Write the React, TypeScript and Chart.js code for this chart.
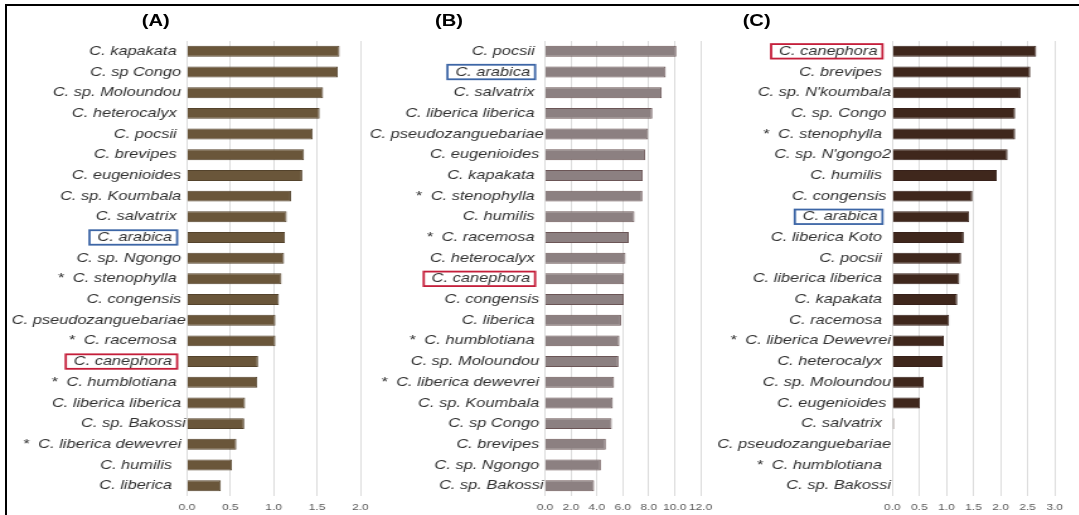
import React, { useEffect, useRef } from 'react';
import { Chart, registerables } from 'chart.js';

Chart.register(...registerables);

// ---------- data ----------
const labelsA = [
  'C. kapakata  ', 'C. sp Congo ', 'C. sp. Moloundou ', 'C. heterocalyx  ', 'C. pocsii  ',
  'C. brevipes  ', 'C. eugenioides ', 'C. sp. Koumbala ', 'C. salvatrix  ', 'C. arabica   ',
  'C. sp. Ngongo ', '*  C. stenophylla  ', 'C. congensis ', 'C. pseudozanguebariae', '*  C. racemosa  ',
  'C. canephora   ', '*  C. humblotiana  ', 'C. liberica liberica ', 'C. sp. Bakossi', '*  C. liberica dewevrei ',
  'C. humilis   ', 'C. liberica   ',
];
const valuesA = [
  1.76, 1.74, 1.57, 1.53, 1.45, 1.35, 1.33, 1.2, 1.15, 1.13, 1.12,
  1.09, 1.06, 1.02, 1.02, 0.82, 0.81, 0.67, 0.66, 0.57, 0.52, 0.39,
];
const ticksA = [0, 0.5, 1.0, 1.5, 2.0];

const labelsB = [
  'C. pocsii  ', 'C. arabica   ', 'C. salvatrix  ', 'C. liberica liberica  ', 'C. pseudozanguebariae',
  'C. eugenioides ', 'C. kapakata  ', '*  C. stenophylla  ', 'C. humilis  ', '*  C. racemosa  ',
  'C. heterocalyx  ', 'C. canephora   ', 'C. congensis ', 'C. liberica  ', '*  C. humblotiana  ',
  'C. sp. Moloundou ', '*  C. liberica dewevrei ', 'C. sp. Koumbala ', 'C. sp Congo ', 'C. brevipes ',
  'C. sp. Ngongo ', 'C. sp. Bakossi',
];
const valuesB = [
  10.13, 9.31, 9.0, 8.28, 7.95, 7.72, 7.54, 7.51, 6.9, 6.46, 6.21,
  6.1, 6.08, 5.87, 5.74, 5.67, 5.33, 5.23, 5.15, 4.69, 4.31, 3.79,
];
const ticksB = [0, 2, 4, 6, 8, 10, 12];

const labelsC = [
  'C. canephora   ', 'C. brevipes  ', "C. sp. N'koumbala", 'C. sp. Congo ', '*  C. stenophylla  ',
  "C. sp. N'gongo2", 'C. humilis  ', 'C. congensis ', 'C. arabica   ', 'C. liberica Koto  ',
  'C. pocsii  ', 'C. liberica liberica  ', 'C. kapakata  ', 'C. racemosa  ', '*  C. liberica Dewevrei',
  'C. heterocalyx  ', 'C. sp. Moloundou', 'C. eugenioides ', 'C. salvatrix  ', 'C. pseudozanguebariae',
  '*  C. humblotiana  ', 'C. sp. Bakossi',
];
const valuesC = [
  2.66, 2.55, 2.37, 2.27, 2.27, 2.13, 1.93, 1.48, 1.42, 1.32, 1.27,
  1.24, 1.2, 1.05, 0.95, 0.93, 0.58, 0.51, 0.03, 0, 0, 0,
];
const ticksC = [0, 0.5, 1.0, 1.5, 2.0, 2.5, 3.0];

const panelTitles = ['(A)', '(B)', '(C)'];
const highlightBlue = 'C. arabica';
const highlightRed = 'C. canephora';

// ---------- style ----------
const SX = 1.26;
const FAMILY = '"Liberation Sans", Arial, Helvetica, sans-serif';
const BLUE = '#3d66a6';
const RED = '#c41e3a';

const boxPlugin = {
  id: 'labelBoxes',
  afterDraw(chart: any, _args: any, opts: any) {
    const ys = chart.scales.y;
    const ctx = chart.ctx as CanvasRenderingContext2D;
    const labels = chart.data.labels as string[];
    ctx.save();
    ctx.font = `italic 13px ${FAMILY}`;
    labels.forEach((lab, i) => {
      const name = lab.trim();
      const color = name === highlightBlue ? BLUE : name === highlightRed ? RED : null;
      if (!color) return;
      const y = ys.getPixelForTick(i);
      const xr = chart.chartArea.left - opts.pad;
      const full = ctx.measureText(lab).width;
      const trimmed = ctx.measureText(lab.trimEnd()).width;
      const left = xr - full - 6.3;
      const right = xr - full + trimmed + 4;
      ctx.strokeStyle = color;
      ctx.lineWidth = 1.8;
      ctx.strokeRect(left, y - 7.25, right - left, 14.5);
    });
    ctx.restore();
  },
};

function makeConfig(
  labels: string[],
  values: number[],
  ticks: number[],
  fill: string,
  border: string,
  yWidth: number,
  pad: number
): any {
  return {
    type: 'bar',
    data: {
      labels,
      datasets: [
        {
          data: values,
          backgroundColor: fill,
          borderColor: border,
          borderWidth: (c: any) => (c.raw > 0 ? 1 : 0),
          barPercentage: 0.53,
          categoryPercentage: 1,
        },
      ],
    },
    options: {
      indexAxis: 'y',
      responsive: false,
      animation: false,
      layout: { padding: 0 },
      plugins: {
        legend: { display: false },
        tooltip: { enabled: false },
        title: { display: false },
        labelBoxes: { pad },
      },
      scales: {
        x: {
          type: 'linear',
          min: ticks[0],
          max: ticks[ticks.length - 1],
          afterBuildTicks: (s: any) => {
            s.ticks = ticks.map((v) => ({ value: v }));
          },
          afterFit: (s: any) => {
            s.height = 20;
            s.paddingRight = 10;
            s.paddingLeft = 0;
          },
          grid: { color: '#dcdcdc', lineWidth: 1, drawTicks: false },
          border: { display: false },
          ticks: {
            padding: 6,
            color: '#595959',
            font: { family: FAMILY, size: 9.5 },
            maxRotation: 0,
            autoSkip: false,
            callback: (v: any) => Number(v).toFixed(1),
          },
        },
        y: {
          afterFit: (s: any) => {
            s.width = yWidth;
            s.paddingTop = 0;
            s.paddingBottom = 0;
          },
          grid: { display: false, drawTicks: false },
          border: { display: false },
          ticks: {
            padding: pad,
            color: '#303030',
            autoSkip: false,
            font: { family: FAMILY, size: 13, style: 'italic' },
          },
        },
      },
    },
    plugins: [boxPlugin],
  };
}

function Panel(props: { cfg: any; left: number; top: number; width: number; height: number }) {
  const ref = useRef<HTMLCanvasElement>(null);
  useEffect(() => {
    const chart = new Chart(ref.current as HTMLCanvasElement, props.cfg);
    return () => chart.destroy();
  }, []);
  return (
    <canvas
      ref={ref}
      width={props.width}
      height={props.height}
      style={{ position: 'absolute', left: props.left, top: props.top, width: props.width, height: props.height }}
    />
  );
}

const TOP = 41;
const H = 475;

export default function App() {
  const cfgA = makeConfig(labelsA, valuesA, ticksA, '#6a563a', '#54432c', 142.4, 1);
  const cfgB = makeConfig(labelsB, valuesB, ticksB, '#8c8081', '#6b5556', 142.5, 1);
  const cfgC = makeConfig(labelsC, valuesC, ticksC, '#3f271c', '#37211a', 143.2, 1);
  const titleCenters = [123.7, 356.3, 600.5];
  return (
    <>
      <div
        style={{
          position: 'fixed',
          left: 5,
          top: 4,
          right: 0,
          bottom: 0,
          borderTop: '2px solid #000',
          borderLeft: '2px solid #000',
        }}
      />
      <div
        style={{
          position: 'fixed',
          left: 0,
          top: 0,
          width: 1079 / SX,
          height: 515,
          transform: `scaleX(${SX})`,
          transformOrigin: '0 0',
        }}
      >
        {panelTitles.map((t, i) => (
          <div
            key={t}
            style={{
              position: 'absolute',
              left: titleCenters[i] - 40,
              width: 80,
              top: 13,
              textAlign: 'center',
              fontFamily: FAMILY,
              fontWeight: 'bold',
              fontSize: 16,
              lineHeight: '16px',
              color: '#000',
            }}
          >
            {t}
          </div>
        ))}
        <Panel cfg={cfgA} left={6} top={TOP} width={290} height={H} />
        <Panel cfg={cfgB} left={290} top={TOP} width={276} height={H} />
        <Panel cfg={cfgC} left={565} top={TOP} width={282} height={H} />
      </div>
    </>
  );
}
